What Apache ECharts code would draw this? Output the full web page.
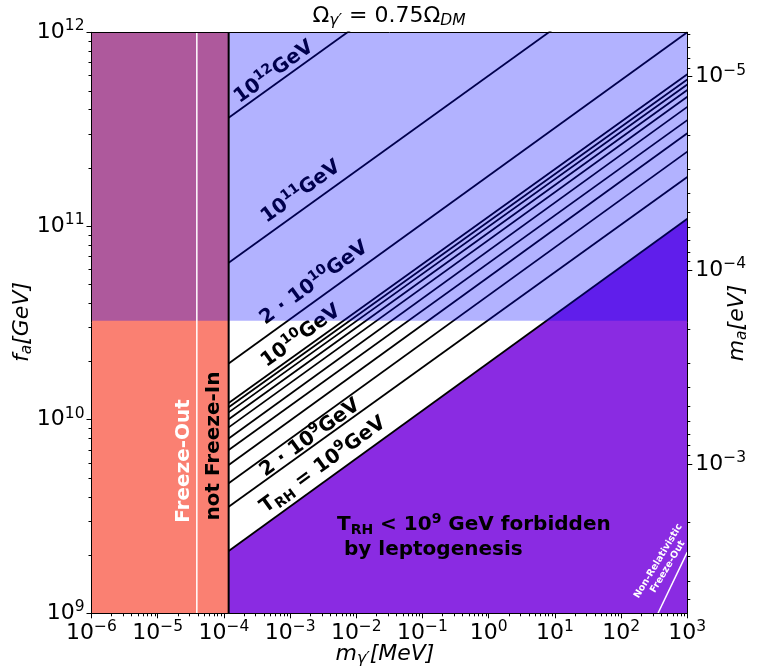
<!DOCTYPE html>
<html>
<head>
<meta charset="utf-8">
<script src="https://cdn.jsdelivr.net/npm/echarts@6.0.0/dist/echarts.min.js"></script>
<style>
html,body{margin:0;padding:0;background:#ffffff;}
#chart{width:766px;height:670px;}
</style>
</head>
<body>
<div id="chart"></div>
<script>
// ---------------- data ----------------
const xRange = [1e-6, 1e3];            // m_gamma' [MeV]
const faRange = [1e9, 1e12];           // f_a [GeV]
const xTickExps = [-6, -5, -4, -3, -2, -1, 0, 1, 2, 3];
const faTickExps = [9, 10, 11, 12];
const maTickExps = [-5, -4, -3];       // m_a [eV]
const maTimesFa = 5.9e6;               // m_a[eV] * f_a[GeV]
const freezeInEdge = 1.18e-4;          // MeV, "not Freeze-In" boundary
const freezeOutX = 3.9e-5;             // MeV, white line
const faOverlaySplit = 3.24e10;        // GeV, lower edge of blue overlay
const trhLineX = [1.18e-4, 1e3];       // MeV, start and end of T_RH lines
const trhNames = ['1e12', '1e11', '2e10', '1e10', '9e9', '8e9', '7e9', '6e9', '5e9', '4e9', '3e9', '2e9', '1e9'];
const trhFaStart = [3.62e11, 6.46e10, 1.95e10, 1.22e10, 1.16e10, 1.09e10, 1.005e10, 9.12e9, 8.0e9, 6.97e9, 5.83e9, 4.69e9, 3.55e9];
const trhFaEnd   = [1.83e13, 3.27e12, 1.0e12, 6.07e11, 5.71e11, 5.38e11, 5.04e11, 4.65e11, 4.12e11, 3.52e11, 3.01e11, 2.42e11, 1.79e11];
const leptoFa = [2.10e9, 1.09e11];     // forbidden-region boundary at trhLineX
const nrLineX = [361, 1e3];            // non-relativistic freeze-out line
const nrLineFa = [1e9, 2.07e9];
const lineLabelX  = [5.7e-4, 1.46e-3, 2.30e-3, 1.46e-3, 2.0e-3, 3.14e-3];
const lineLabelFa = [6.23e11, 1.50e11, 5.07e10, 2.70e10, 8.04e9, 5.83e9];
const lineLabelText = [
  '{b|10}{s|12}{b|GeV}',
  '{b|10}{s|11}{b|GeV}',
  '{b|2 · 10}{s|10}{b|GeV}',
  '{b|10}{s|10}{b|GeV}',
  '{b|2 · 10}{s|9}{b|GeV}',
  '{b|T}{u|RH}{b| = 10}{s|9}{b|GeV}'
];

// minor tick positions (axis decoration)
const xMinor = [], faMinor = [], maMinor = [];
for (let e = -6; e < 3; e++) for (let k = 2; k <= 9; k++) xMinor.push(k * Math.pow(10, e));
for (let e = 9; e < 12; e++) for (let k = 2; k <= 9; k++) faMinor.push(k * Math.pow(10, e));
const maMinExp = Math.log10(maTimesFa / faRange[1]);
const maMaxExp = Math.log10(maTimesFa / faRange[0]);
for (let e = -6; e <= -3; e++) for (let k = 2; k <= 9; k++) {
  const le = Math.log10(k * Math.pow(10, e));
  if (le > maMinExp + 1e-6 && le < maMaxExp - 1e-6) maMinor.push(le);
}

// ---------------- styling helpers ----------------
const F = 'DejaVu Sans';
const supTxt = e => (e < 0 ? '\u2212' + (-e) : String(e));
const tickRich = {
  b: { fontFamily: F, fontSize: 22, lineHeight: 28, color: '#000' },
  s: { fontFamily: F, fontSize: 15.5, lineHeight: 15, verticalAlign: 'top', color: '#000' }
};
const lblRich = {
  b: { fontFamily: F, fontWeight: 'bold', fontSize: 20, lineHeight: 26, color: '#000', opacity: 1 },
  s: { fontFamily: F, fontWeight: 'bold', fontSize: 14, lineHeight: 14, verticalAlign: 'top', color: '#000', opacity: 1 },
  u: { fontFamily: F, fontWeight: 'bold', fontSize: 14, lineHeight: 14, verticalAlign: 'bottom', color: '#000', opacity: 1 }
};
function rectRender(color) {
  return function (params, api) {
    const p0 = api.coord([api.value(0), api.value(1)]);
    const p1 = api.coord([api.value(2), api.value(3)]);
    return {
      type: 'rect',
      shape: { x: Math.min(p0[0], p1[0]), y: Math.min(p0[1], p1[1]), width: Math.abs(p1[0] - p0[0]), height: Math.abs(p1[1] - p0[1]) },
      style: { fill: color }
    };
  };
}
function tickRender(dx, dy) {
  return function (params, api) {
    const p = api.coord([api.value(0), api.value(1)]);
    const x = dx === 0 ? Math.round(p[0]) + 0.5 : p[0];
    const y = dy === 0 ? Math.round(p[1]) + 0.5 : p[1];
    return { type: 'line', shape: { x1: x, y1: y, x2: x + dx, y2: y + dy }, style: { stroke: '#000', lineWidth: 1 } };
  };
}

// ---------------- series ----------------
const series = [];
series.push({
  type: 'custom', renderItem: rectRender('#fa8072'),
  data: [[xRange[0], faRange[0], freezeInEdge, faRange[1]]],
  encode: { x: [0, 2], y: [1, 3] }, z: 1, silent: true
});
const leptoPoly = [[trhLineX[0], faRange[0]], [trhLineX[0], leptoFa[0]], [trhLineX[1], leptoFa[1]], [trhLineX[1], faRange[0]]];
series.push({
  type: 'custom',
  renderItem: (params, api) => ({ type: 'polygon', shape: { points: leptoPoly.map(q => api.coord(q)) }, style: { fill: '#8a2be2' } }),
  data: [leptoPoly[0]], z: 1, silent: true
});
trhNames.forEach((n, i) => series.push({
  type: 'line', name: n,
  data: [[trhLineX[0], trhFaStart[i]], [trhLineX[1], trhFaEnd[i]]],
  symbol: 'none', showSymbol: false, lineStyle: { color: '#000', width: 1.8 }, z: 2, silent: true, clip: true
}));
series.push({
  type: 'line', name: 'lepto',
  data: [[trhLineX[0], leptoFa[0]], [trhLineX[1], leptoFa[1]]],
  symbol: 'none', lineStyle: { color: '#000', width: 1.8 }, z: 2, silent: true, clip: true
});
series.push({
  type: 'scatter',
  data: lineLabelX.map((x, i) => [x, lineLabelFa[i]]),
  symbolSize: 1, itemStyle: { color: 'rgba(0,0,0,0)', opacity: 1 },
  label: { show: true, position: 'inside', rotate: 36, color: '#000', opacity: 1, formatter: p => lineLabelText[p.dataIndex], rich: lblRich },
  z: 3, silent: true
});
series.push({
  type: 'custom', renderItem: rectRender('rgba(0,0,255,0.3)'),
  data: [[xRange[0], faOverlaySplit, xRange[1], faRange[1]]],
  encode: { x: [0, 2], y: [1, 3] }, z: 10, silent: true
});
series.push({
  type: 'line', data: [[freezeInEdge, faRange[0]], [freezeInEdge, faRange[1]]],
  symbol: 'none', lineStyle: { color: '#000', width: 2 }, z: 11, silent: true
});
series.push({
  type: 'line', data: [[freezeOutX, faRange[0]], [freezeOutX, faRange[1]]],
  symbol: 'none', lineStyle: { color: '#fff', width: 1.5 }, z: 11, silent: true
});
series.push({
  type: 'line', data: nrLineX.map((x, i) => [x, nrLineFa[i]]),
  symbol: 'none', lineStyle: { color: '#fff', width: 1.5 }, z: 11, silent: true, clip: true
});
series.push({ type: 'custom', renderItem: tickRender(0, 3), data: xMinor.map(v => [v, faRange[0]]), z: 60, silent: true, clip: false });
series.push({ type: 'custom', renderItem: tickRender(-3, 0), data: faMinor.map(v => [xRange[0], v]), z: 60, silent: true, clip: false });
series.push({ type: 'custom', yAxisIndex: 1, renderItem: tickRender(3, 0), data: maMinor.map(v => [xRange[1], v]), z: 60, silent: true, clip: false });

// ---------------- chart ----------------
const chart = echarts.init(document.getElementById('chart'), null, { renderer: 'canvas' });
const axisLineStyle = { color: '#000', width: 1 };
const option = {
  animation: false,
  backgroundColor: '#ffffff',
  grid: { left: 91.5, right: 78.7, top: 32.3, bottom: 56.7, containLabel: false },
  xAxis: [
    {
      type: 'log', logBase: 10, min: xRange[0], max: xRange[1], position: 'bottom', z: 50,
      axisLine: { show: true, lineStyle: axisLineStyle },
      axisTick: { show: true, inside: false, length: 5, lineStyle: axisLineStyle },
      axisLabel: {
        show: true, margin: 6,
        formatter: v => { const e = Math.round(Math.log10(v)); return xTickExps.indexOf(e) >= 0 ? '{b|10}{s|' + supTxt(e) + '}' : ''; },
        rich: tickRich
      },
      splitLine: { show: false }, minorTick: { show: false }
    },
    {
      type: 'log', logBase: 10, min: xRange[0], max: xRange[1], position: 'top', z: 50,
      axisLine: { show: true, lineStyle: axisLineStyle },
      axisTick: { show: false }, axisLabel: { show: false }, splitLine: { show: false }
    }
  ],
  yAxis: [
    {
      type: 'log', logBase: 10, min: faRange[0], max: faRange[1], position: 'left', z: 50,
      axisLine: { show: true, lineStyle: axisLineStyle },
      axisTick: { show: true, inside: false, length: 5, lineStyle: axisLineStyle },
      axisLabel: {
        show: true, margin: 7,
        formatter: v => { const e = Math.round(Math.log10(v)); return faTickExps.indexOf(e) >= 0 ? '{b|10}{s|' + supTxt(e) + '}' : ''; },
        rich: tickRich
      },
      splitLine: { show: false }
    },
    {
      type: 'value', min: maMinExp, max: maMaxExp, inverse: true, position: 'right', z: 50,
      axisLine: { show: true, lineStyle: axisLineStyle },
      axisTick: { show: true, inside: false, length: 5, lineStyle: axisLineStyle, customValues: maTickExps },
      axisLabel: {
        show: true, margin: 8, customValues: maTickExps,
        formatter: v => '{b|10}{s|' + supTxt(Math.round(v)) + '}',
        rich: tickRich
      },
      splitLine: { show: false }
    }
  ],
  graphic: [
    {
      type: 'text', x: 389, y: 16, z: 100,
      style: {
        text: '{n|Ω}{sb|γ′}{n| = 0.75Ω}{sb|DM}', align: 'center', verticalAlign: 'middle',
        rich: {
          n: { fontFamily: F, fontSize: 22, lineHeight: 26, fill: '#000' },
          sb: { fontFamily: F, fontStyle: 'italic', fontSize: 15.5, lineHeight: 15, verticalAlign: 'bottom', fill: '#000' }
        }
      }
    },
    {
      type: 'text', x: 385, y: 654, z: 100,
      style: {
        text: '{i|m}{sb|γ′}{i|[MeV]}', align: 'center', verticalAlign: 'middle',
        rich: {
          i: { fontFamily: F, fontStyle: 'italic', fontSize: 22, lineHeight: 26, fill: '#000' },
          sb: { fontFamily: F, fontStyle: 'italic', fontSize: 15.5, lineHeight: 15, verticalAlign: 'bottom', fill: '#000' }
        }
      }
    },
    {
      type: 'text', x: 22, y: 322, rotation: Math.PI / 2, z: 100,
      style: {
        text: '{i|f}{sb|a}{i|[GeV]}', align: 'center', verticalAlign: 'middle',
        rich: {
          i: { fontFamily: F, fontStyle: 'italic', fontSize: 22, lineHeight: 26, fill: '#000' },
          sb: { fontFamily: F, fontStyle: 'italic', fontSize: 15.5, lineHeight: 15, verticalAlign: 'bottom', fill: '#000' }
        }
      }
    },
    {
      type: 'text', x: 737, y: 323, rotation: Math.PI / 2, z: 100,
      style: {
        text: '{i|m}{sb|a}{i|[eV]}', align: 'center', verticalAlign: 'middle',
        rich: {
          i: { fontFamily: F, fontStyle: 'italic', fontSize: 22, lineHeight: 26, fill: '#000' },
          sb: { fontFamily: F, fontStyle: 'italic', fontSize: 15.5, lineHeight: 15, verticalAlign: 'bottom', fill: '#000' }
        }
      }
    },
    {
      type: 'text', x: 184, y: 461, rotation: Math.PI / 2, z: 100,
      style: { text: 'Freeze-Out', font: 'bold 20px "DejaVu Sans"', fill: '#fff', align: 'center', verticalAlign: 'middle' }
    },
    {
      type: 'text', x: 214, y: 446, rotation: Math.PI / 2, z: 100,
      style: { text: 'not Freeze-In', font: 'bold 20px "DejaVu Sans"', fill: '#000', align: 'center', verticalAlign: 'middle' }
    },
    {
      type: 'text', x: 337, y: 512, z: 100,
      style: {
        text: '{b|T}{u|RH}{b| < 10}{s|9}{b| GeV forbidden}\n{b| by leptogenesis}', align: 'left', verticalAlign: 'top',
        rich: {
          b: { fontFamily: F, fontWeight: 'bold', fontSize: 20, lineHeight: 25, fill: '#000' },
          s: { fontFamily: F, fontWeight: 'bold', fontSize: 14, lineHeight: 14, verticalAlign: 'top', fill: '#000' },
          u: { fontFamily: F, fontWeight: 'bold', fontSize: 14, lineHeight: 14, verticalAlign: 'bottom', fill: '#000' }
        }
      }
    },
    {
      type: 'text', x: 663, y: 564, rotation: 59 * Math.PI / 180, z: 100,
      style: { text: 'Non-Relativistic\nFreeze-Out', font: 'bold 9.5px "DejaVu Sans"', lineHeight: 11, fill: '#fff', align: 'center', verticalAlign: 'middle' }
    }
  ],
  series: series
};
chart.setOption(option);
</script>
</body>
</html>
